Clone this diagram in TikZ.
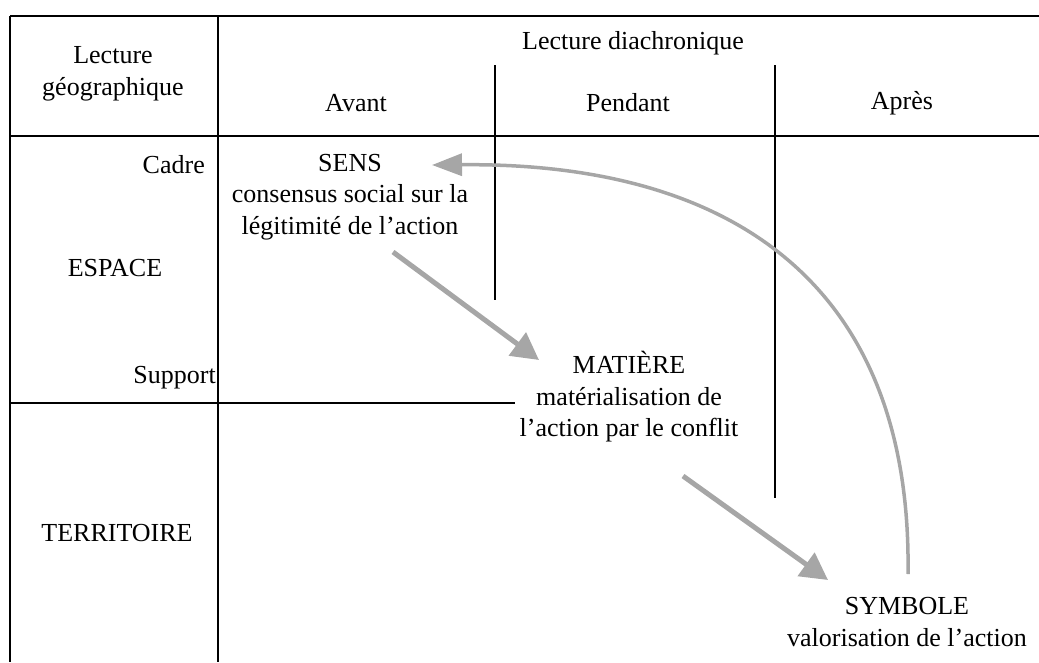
\documentclass[tikz,border=0pt]{standalone}
\usepackage{fontspec}
\setmainfont{Liberation Serif}
\usetikzlibrary{arrows.meta}
\begin{document}
\begin{tikzpicture}[x=1pt,y=-1pt,
  rule/.style={line width=1.6pt, black},
  txt/.style={font=\fontsize{26}{31.5}\selectfont, align=center, inner sep=0pt},
  garrow/.style={draw=gray!70, line width=5pt, -{Triangle[length=27pt,width=28pt,fill=gray!70]}},
  carrow/.style={draw=gray!70, line width=3.5pt, -{Triangle[length=30pt,width=22pt,fill=gray!70]}}]
\useasboundingbox (0,0) rectangle (1039,662);
% table rules
\draw[rule] (10,16) -- (1039,16);
\draw[rule] (10,16) -- (10,662);
\draw[rule] (218,16) -- (218,662);
\draw[rule] (10,136) -- (1039,136);
\draw[rule] (10,403) -- (515,403);
\draw[rule] (495,65) -- (495,300);
\draw[rule] (775,65) -- (775,498);
% texts
\node[txt] (geo) at (113,74) {Lecture\\géographique};
\node[txt] (dia) at (633,43) {Lecture diachronique};
\node[txt] (avant) at (356,103) {Avant};
\node[txt] (pendant) at (628,103) {Pendant};
\node[txt] (apres) at (902,103) {Après};
\node[txt, anchor=east] (cadre) at (205,165) {Cadre};
\node[txt] (sens) at (350,197) {SENS\\consensus social sur la\\légitimité de l’action};
\node[txt] (espace) at (115,268) {ESPACE};
\node[txt, anchor=east] (support) at (216,378) {Support};
\node[txt] (matiere) at (629,397) {MATIÈRE\\matérialisation de\\l’action par le conflit};
\node[txt] (territoire) at (117,533) {TERRITOIRE};
\node[txt] (symbole) at (907,622) {SYMBOLE\\valorisation de l’action};
% arrows
\coordinate (a1s) at (393,252);
\coordinate (a1e) at (539,360);
\coordinate (a2s) at (683,476);
\coordinate (a2e) at (828,580);
\coordinate (cs) at (908,574);
\coordinate (ce) at (432,165);
\draw[garrow] (a1s) -- (a1e);
\draw[garrow] (a2s) -- (a2e);
\draw[carrow] (cs) .. controls (912,300) and (750,162) .. (ce);
\end{tikzpicture}
\end{document}
